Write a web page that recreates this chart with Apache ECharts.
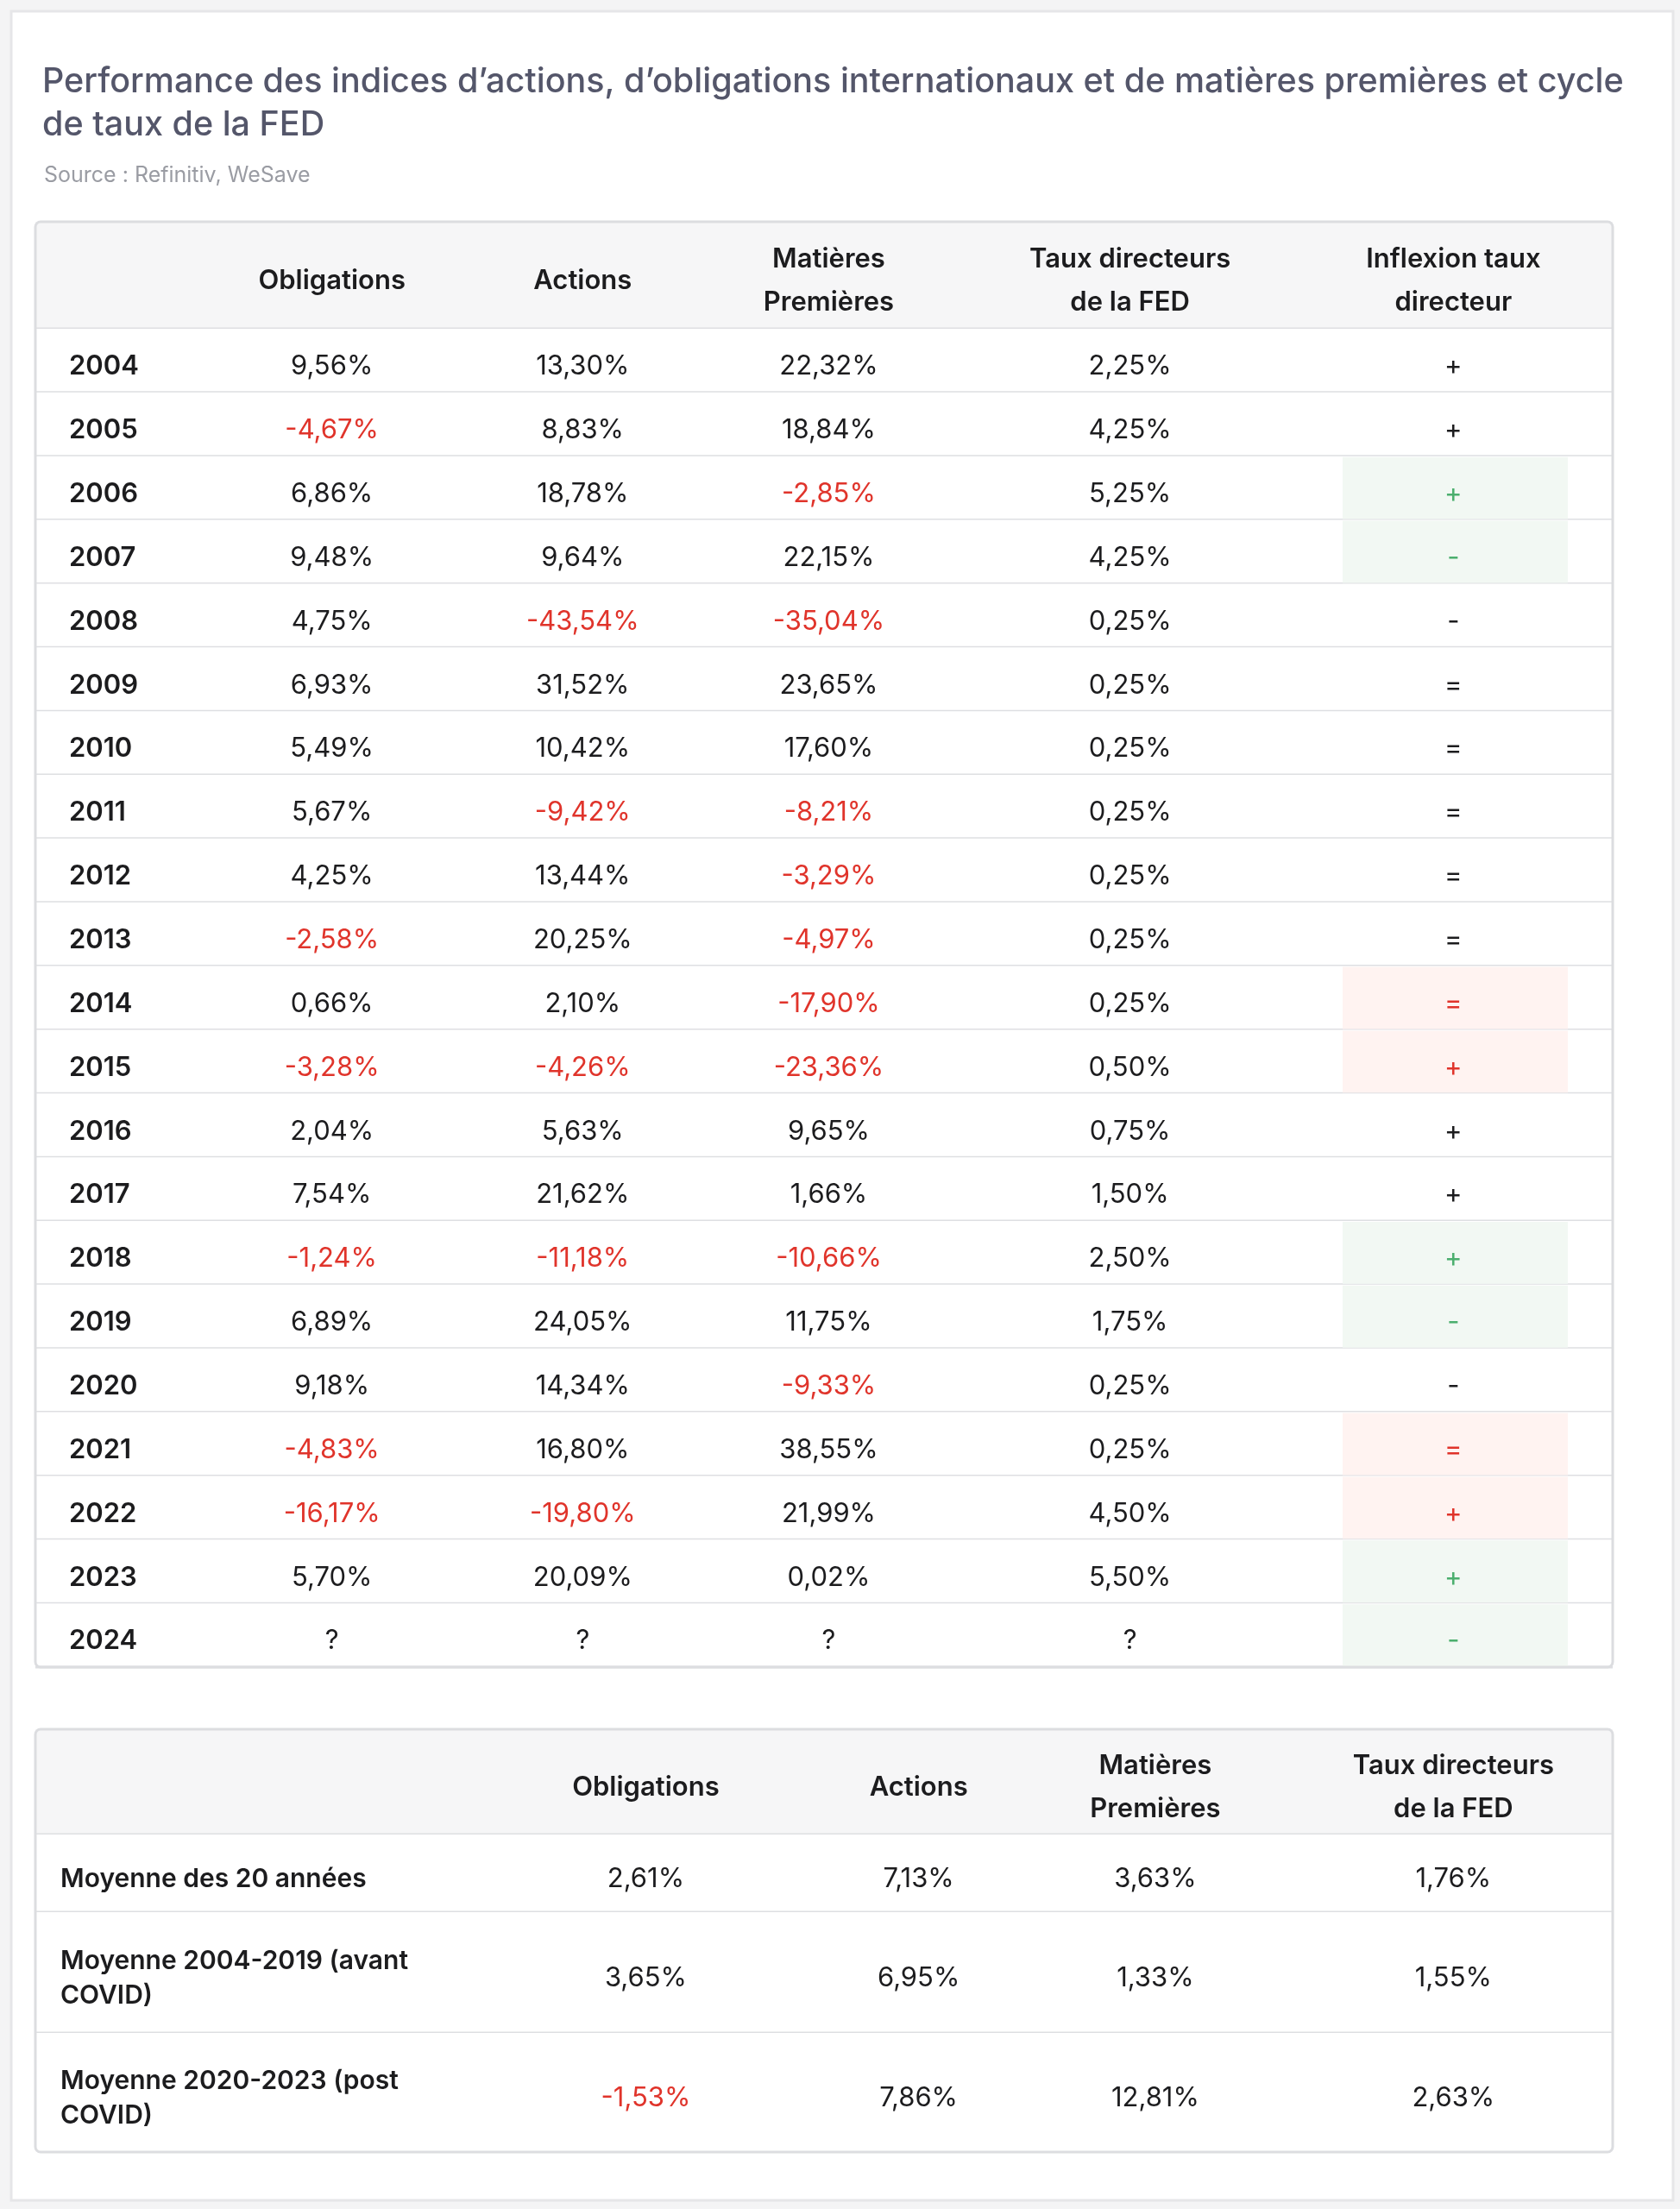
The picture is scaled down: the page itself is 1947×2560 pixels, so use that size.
<!DOCTYPE html>
<html>
<head>
<meta charset="utf-8">
<script src="https://cdn.jsdelivr.net/npm/echarts@6/dist/echarts.min.js"></script>
<style>
html,body{margin:0;padding:0;background:#f4f4f5;}
#main{width:1947px;height:2560px;}
</style>
</head>
<body>
<div id="main"></div>
<script>
// --- données ---
var headers1 = ['', 'Obligations', 'Actions', 'Matières\nPremières', 'Taux directeurs\nde la FED', 'Inflexion taux\ndirecteur'];
var years = ['2004','2005','2006','2007','2008','2009','2010','2011','2012','2013','2014','2015','2016','2017','2018','2019','2020','2021','2022','2023','2024'];
var obligations = [9.56,-4.67,6.86,9.48,4.75,6.93,5.49,5.67,4.25,-2.58,0.66,-3.28,2.04,7.54,-1.24,6.89,9.18,-4.83,-16.17,5.70,null];
var actions = [13.30,8.83,18.78,9.64,-43.54,31.52,10.42,-9.42,13.44,20.25,2.10,-4.26,5.63,21.62,-11.18,24.05,14.34,16.80,-19.80,20.09,null];
var matieres = [22.32,18.84,-2.85,22.15,-35.04,23.65,17.60,-8.21,-3.29,-4.97,-17.90,-23.36,9.65,1.66,-10.66,11.75,-9.33,38.55,21.99,0.02,null];
var tauxFed = [2.25,4.25,5.25,4.25,0.25,0.25,0.25,0.25,0.25,0.25,0.25,0.50,0.75,1.50,2.50,1.75,0.25,0.25,4.50,5.50,null];
var inflexion = ['+','+','+','-','-','=','=','=','=','=','=','+','+','+','+','-','-','=','+','+','-'];
var inflexionMark = ['','','g','g','','','','','','','r','r','','','g','g','','r','r','g','g'];

var headers2 = ['', 'Obligations', 'Actions', 'Matières\nPremières', 'Taux directeurs\nde la FED'];
var periodes = ['Moyenne des 20 années', 'Moyenne 2004-2019 (avant\nCOVID)', 'Moyenne 2020-2023 (post\nCOVID)'];
var moyObligations = [2.61, 3.65, -1.53];
var moyActions = [7.13, 6.95, 7.86];
var moyMatieres = [3.63, 1.33, 12.81];
var moyTaux = [1.76, 1.55, 2.63];

// --- mise en page ---
var TL = 41, TW = 1828;
var cols1 = [39, 0.188, 0.347, 0.503, 0.694, 0.899];
var cols2 = [29, 0.387, 0.560, 0.710, 0.899];
var RED = '#e0342b', GREEN = '#4caf6e', INK = '#1c1c1e';
var FONT = 'Inter, "Noto Sans", sans-serif';

function fmt(v){
    if (v === null) return '?';
    return v.toFixed(2).replace('.', ',') + '%';
}
function numColor(v){ return (v !== null && v < 0) ? RED : INK; }

var grids = [], xAxes = [], yAxes = [], series = [];

function addPart(top, height, rows, cells, cols, opts){
    var gi = grids.length;
    grids.push({left: TL, top: top, width: TW, height: height});
    xAxes.push({type: 'value', gridIndex: gi, min: 0, max: 1, show: false});
    yAxes.push({type: 'category', gridIndex: gi, data: rows, inverse: true, show: false});
    series.push({
        type: 'custom',
        xAxisIndex: gi, yAxisIndex: gi,
        data: cells,
        renderItem: function(params, api){
            var cs = params.coordSys;
            var col = api.value(0), row = api.value(1);
            var c = api.coord([0, row]);
            var h = api.size([0, 1])[1];
            var y0 = c[1] - h / 2;
            var item = cells[params.dataIndex];
            var children = [];
            if (col === 0) {
                children.push({type: 'rect', shape: {x: cs.x, y: y0, width: cs.width, height: h},
                    style: {fill: opts.bg}});
                if (opts.line) children.push({type: 'line', shape: {x1: cs.x, y1: y0 + h, x2: cs.x + cs.width, y2: y0 + h},
                    style: {stroke: '#dedfe2', lineWidth: 3}});
            }
            if (item.mark) {
                children.push({type: 'rect', shape: {x: cs.x + 1515, y: y0 + 1, width: 261, height: h - 2},
                    style: {fill: item.mark === 'g' ? '#f2f8f3' : '#fff3f1'}});
            }
            var x = col === 0 ? cs.x + cols[0] : cs.x + cs.width * cols[col];
            children.push({type: 'text', z2: 5, style: {
                x: x, y: c[1] + 7, text: item.text,
                align: col === 0 ? 'left' : 'center', verticalAlign: 'middle',
                fill: item.color || INK,
                font: (item.bold ? '600 ' : '400 ') + (item.size || 31) + 'px ' + FONT,
                lineHeight: item.lh || 40
            }});
            return {type: 'group', children: children};
        }
    });
}

// tableau 1 : en-tête
addPart(257, 124, ['h'], headers1.map(function(t, i){
    return {value: [i, 0], text: t, bold: true, size: 31, lh: 50};
}), cols1, {bg: '#f6f6f7', line: true});

// tableau 1 : corps
var body1 = [];
years.forEach(function(y, r){
    body1.push({value: [0, r], text: y, bold: true});
    [obligations, actions, matieres, tauxFed].forEach(function(arr, k){
        body1.push({value: [k + 1, r], text: fmt(arr[r]), color: numColor(arr[r])});
    });
    var m = inflexionMark[r];
    body1.push({value: [5, r], text: inflexion[r], mark: m,
        color: m === 'g' ? GREEN : (m === 'r' ? RED : INK)});
});
addPart(381, 1551, years, body1, cols1, {bg: '#ffffff', line: true});

// tableau 2
addPart(2004, 122, ['h'], headers2.map(function(t, i){
    return {value: [i, 0], text: t, bold: true, size: 31, lh: 50};
}), cols2, {bg: '#f6f6f7', line: true});
var rowTops = [2126, 2216, 2356, 2494];
periodes.forEach(function(p, r){
    var cells = [{value: [0, 0], text: p, bold: true, size: 30, lh: 40}];
    [moyObligations, moyActions, moyMatieres, moyTaux].forEach(function(arr, k){
        cells.push({value: [k + 1, 0], text: fmt(arr[r]), color: numColor(arr[r])});
    });
    addPart(rowTops[r], rowTops[r + 1] - rowTops[r], [p], cells, cols2, {bg: '#ffffff', line: r < 2});
});

var chart = echarts.init(document.getElementById('main'));
chart.setOption({
    animation: false,
    backgroundColor: 'transparent',
    title: [{
        text: 'Performance des indices d’actions, d’obligations internationaux et de matières premières et cycle\nde taux de la FED',
        left: 44, top: 65,
        textStyle: {fontFamily: FONT, fontSize: 39.5, fontWeight: 500, color: '#54566a', lineHeight: 50}
    }, {
        text: 'Source : Refinitiv, WeSave',
        left: 46, top: 186,
        textStyle: {fontFamily: FONT, fontSize: 25, fontWeight: 400, color: '#9a9ca3'}
    }],
    graphic: [
        {type: 'rect', z: -10, shape: {x: 13, y: 13, width: 1926, height: 2537}, style: {fill: '#ffffff', stroke: '#e6e6e8', lineWidth: 3}},
        {type: 'rect', z: 20, shape: {x: TL, y: 257, width: TW, height: 1675, r: 6}, style: {fill: null, stroke: '#dcdde0', lineWidth: 3}},
        {type: 'rect', z: 20, shape: {x: TL, y: 2004, width: TW, height: 490, r: 6}, style: {fill: null, stroke: '#dcdde0', lineWidth: 3}}
    ],
    grid: grids, xAxis: xAxes, yAxis: yAxes, series: series
});
</script>
</body>
</html>
